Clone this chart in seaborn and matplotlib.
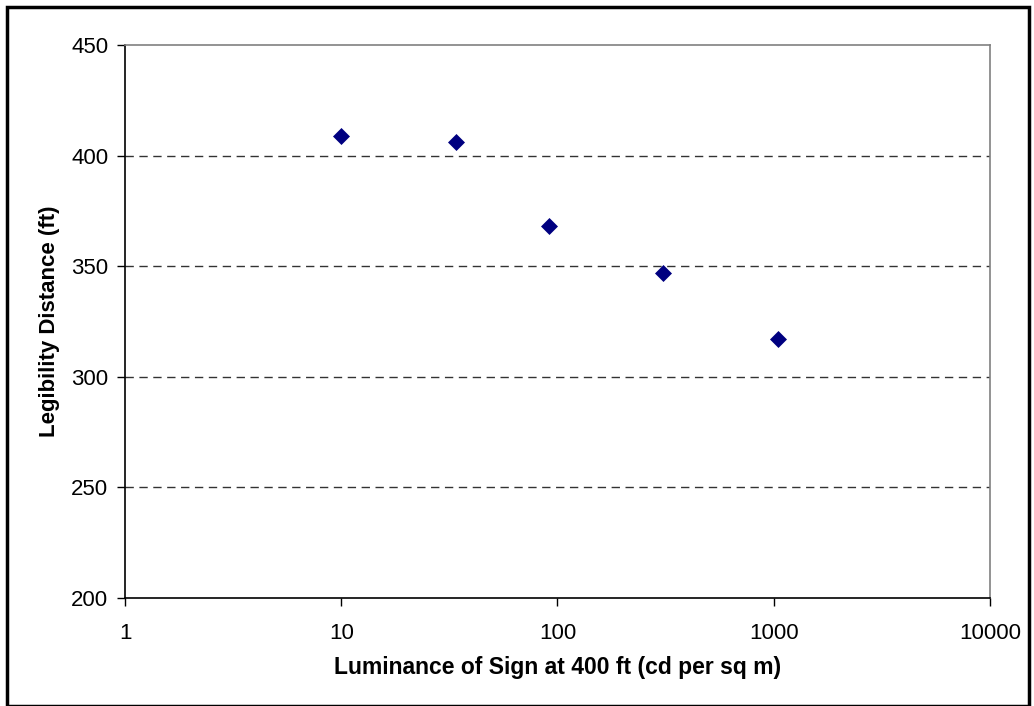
import seaborn as sns
import matplotlib.pyplot as plt
import pandas as pd

# luminance (cd per sq m) vs legibility distance (ft)
luminance = [10, 34, 91, 307, 1047]
legibility = [409, 406, 368, 347, 317]
x_ticks = [1, 10, 100, 1000, 10000]
y_ticks = [200, 250, 300, 350, 400, 450]

sns.set_style("white")
plt.rcParams['font.family'] = ['Liberation Sans', 'DejaVu Sans']
plt.rcParams['text.color'] = 'black'
plt.rcParams['xtick.color'] = 'black'
plt.rcParams['ytick.color'] = 'black'

df = pd.DataFrame({"lum": luminance, "dist": legibility})

fig = plt.figure(figsize=(10.34, 7.06), dpi=100)
ax = fig.add_axes([0.1209, 0.153, 0.8365, 0.7833])

sns.scatterplot(data=df, x="lum", y="dist", ax=ax, marker="D", s=75,
                color="#000080", edgecolor="#000080", linewidth=0, zorder=3)

ax.set_xscale("log")
ax.set_xlim(1, 10000)
ax.set_ylim(200, 450)
ax.set_xticks(x_ticks)
ax.set_xticklabels([str(t) for t in x_ticks])
ax.minorticks_off()
ax.set_yticks(y_ticks)

for y in y_ticks[1:-1]:
    ax.axhline(y, color="#333333", lw=1, ls=(0, (6, 4)), zorder=1)

for side in ["left", "bottom"]:
    ax.spines[side].set_color("black")
for side in ["top", "right"]:
    ax.spines[side].set_color("#808080")
for sp in ax.spines.values():
    sp.set_linewidth(1.2)

ax.tick_params(axis="both", direction="out", length=6, width=1, color="black",
               labelsize=16, labelcolor="black", bottom=True, left=True)
ax.tick_params(axis="x", pad=12)
ax.tick_params(axis="y", pad=6)

ax.set_xlabel("Luminance of Sign at 400 ft (cd per sq m)", fontsize=16.5,
              fontweight="bold", labelpad=9, color="black")
ax.set_ylabel("Legibility Distance (ft)", fontsize=16, fontweight="bold",
              labelpad=8, color="black")

# outer chart border
fig.patches.append(plt.Rectangle((0.007, 0.0), 0.988, 0.99, transform=fig.transFigure,
                                 fill=False, edgecolor="black", lw=2.5))

fig.savefig("out.png", dpi=100)
